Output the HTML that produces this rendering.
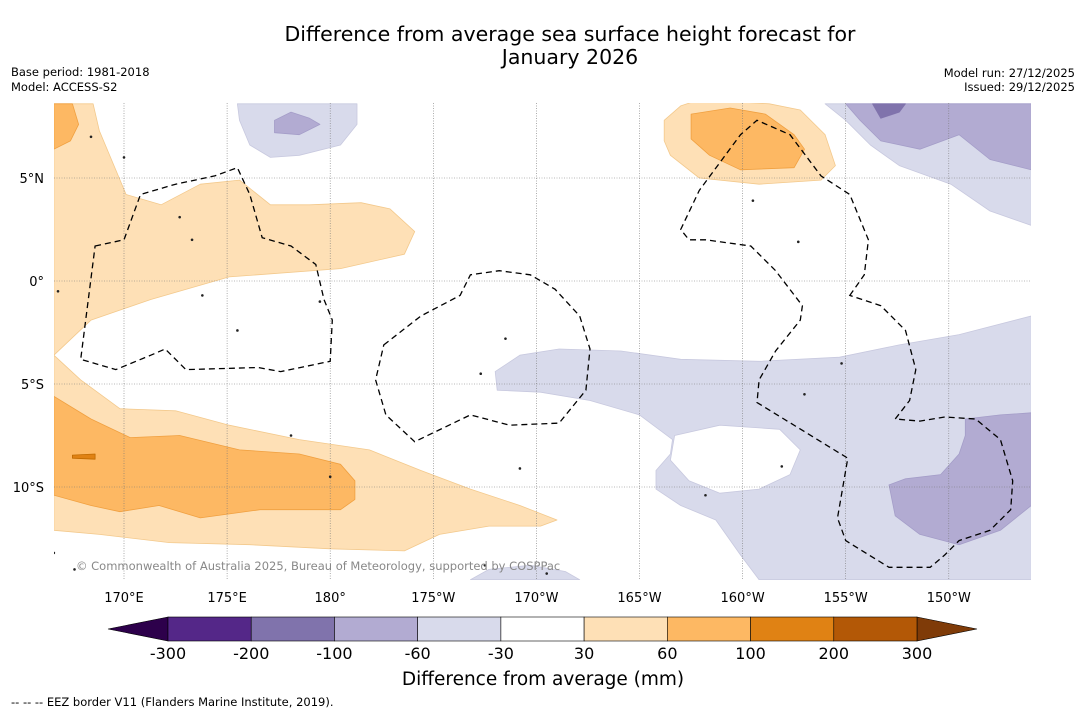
<!DOCTYPE html>
<html><head><meta charset="utf-8"><style>
html,body{margin:0;padding:0;background:#fff;}
body{width:1085px;height:713px;overflow:hidden;font-family:"DejaVu Sans",sans-serif;}
</style></head><body>
<svg id="chart" width="1085" height="713" viewBox="0 0 1085 713" xmlns="http://www.w3.org/2000/svg" font-family="DejaVu Sans, sans-serif">
<text x="570" y="41" text-anchor="middle" font-size="20.5" fill="#000">Difference from average sea surface height forecast for</text>
<text x="570" y="64" text-anchor="middle" font-size="20.5" fill="#000">January 2026</text>
<text x="11" y="76" font-size="11.5">Base period: 1981-2018</text>
<text x="11" y="91" font-size="11.5">Model: ACCESS-S2</text>
<text x="1075" y="77" font-size="11.5" text-anchor="end">Model run: 27/12/2025</text>
<text x="1075" y="91" font-size="11.5" text-anchor="end">Issued: 29/12/2025</text>
<defs><clipPath id="mapclip"><rect x="54" y="103" width="977" height="477"/></clipPath></defs>
<g id="map" clip-path="url(#mapclip)"></g>
<g id="axes"></g>
<text x="76" y="570" font-size="11.5" fill="#888">© Commonwealth of Australia 2025, Bureau of Meteorology, supported by COSPPac</text>
<g id="cbar"></g>
<text x="543" y="685" text-anchor="middle" font-size="18.5">Difference from average (mm)</text>
<text x="11" y="706" font-size="11.5">-- -- -- EEZ border V11 (Flanders Marine Institute, 2019).</text>
</svg>
<script>
const lonTicks=[170,175,180,185,190,195,200,205,210];
const lonLabels=["170°E","175°E","180°","175°W","170°W","165°W","160°W","155°W","150°W"];
const latTicks=[5,0,-5,-10];
const latLabels=["5°N","0°","5°S","10°S"];
const cbBounds=["-300","-200","-100","-60","-30","30","60","100","200","300"];
const cbColors=["#542788","#8073ac","#b2abd2","#d8daeb","#ffffff","#fee0b6","#fdb863","#e08214","#b35806"];
const cbExt=["#2d004b","#7f3b08"];
const lightOrangeNW=[[166.6,8.6],[168.5,8.6],[168.8,7.3],[170.1,4.2],[171.8,3.7],[173.7,4.7],[175.6,4.9],[177.1,3.7],[179.0,3.7],[181.5,3.8],[182.9,3.5],[184.1,2.4],[183.6,1.3],[180.5,0.6],[175.1,0.2],[171.3,-0.9],[168.4,-1.9],[166.6,-3.6]];
const orangeNW=[[166.6,8.6],[167.5,8.6],[167.8,7.6],[167.4,6.8],[166.6,6.4]];
const lightOrangeSW=[[166.6,-3.6],[167.9,-4.8],[169.8,-6.2],[172.5,-6.3],[175.1,-7.0],[178.5,-7.7],[181.9,-8.2],[184.4,-9.2],[186.8,-10.1],[189.2,-10.9],[191.0,-11.6],[190.2,-11.9],[187.7,-11.9],[185.3,-12.3],[183.6,-13.1],[180.0,-13.0],[176.1,-12.8],[172.2,-12.7],[168.8,-12.3],[166.6,-12.1]];
const orangeSW=[[166.6,-5.6],[168.4,-6.7],[170.3,-7.6],[172.7,-7.5],[175.6,-8.2],[178.5,-8.4],[180.5,-8.9],[181.2,-9.7],[181.2,-10.6],[180.5,-11.1],[176.6,-11.1],[173.7,-11.5],[171.7,-10.9],[169.8,-11.2],[168.4,-10.9],[166.6,-10.4]];
const darkOrangeSW=[[167.5,-8.45],[168.6,-8.4],[168.6,-8.65],[167.5,-8.6]];
const lightOrangeNE=[[196.2,6.8],[196.2,7.8],[197.0,8.5],[197.9,8.8],[201.3,8.6],[202.8,8.3],[204.0,7.1],[204.5,5.6],[203.8,4.9],[200.8,4.7],[197.9,5.0],[196.5,6.1]];
const orangeNE=[[197.5,8.1],[199.4,8.4],[201.1,8.1],[202.5,7.1],[203.0,6.4],[202.5,5.5],[199.9,5.4],[198.4,6.1],[197.5,6.9]];
const lightPurpleN=[[175.5,8.6],[181.3,8.6],[181.3,7.6],[180.5,6.6],[178.5,6.1],[177.1,6.0],[176.1,6.6],[175.6,7.8]];
const purpleN=[[177.3,7.8],[178.1,8.2],[179.0,7.9],[179.5,7.6],[178.5,7.1],[177.3,7.2]];
const lightPurpleNE=[[204.0,8.6],[214,8.6],[214,2.7],[212.0,3.4],[210.1,4.7],[207.6,5.6],[206.2,6.6],[205.0,7.8]];
const purpleNE=[[205.0,8.6],[214,8.6],[214,5.4],[212.0,5.9],[210.5,7.1],[208.6,6.4],[206.7,6.8],[205.7,7.8]];
const darkPurpleNE=[[206.3,8.6],[207.9,8.6],[207.6,8.2],[206.7,7.9]];
const lightPurpleS=[[188.0,-4.4],[189.2,-3.6],[191.1,-3.3],[194.1,-3.4],[197.0,-3.8],[200.8,-3.9],[204.7,-3.7],[207.6,-3.1],[210.5,-2.6],[214,-1.7],[214,-14.5],[200.8,-14.5],[199.9,-13.3],[198.7,-11.6],[197.0,-10.9],[195.8,-10.1],[195.8,-9.2],[196.5,-8.4],[196.6,-7.7],[195.0,-6.5],[192.6,-5.8],[190.2,-5.4],[188.1,-5.3]];
const holeS=[[196.7,-7.5],[198.9,-7.0],[201.8,-7.2],[202.8,-8.2],[202.3,-9.4],[200.8,-10.1],[198.9,-10.3],[197.4,-9.7],[196.5,-8.7]];
const lightPurpleBottom=[[186.8,-14.5],[187.7,-14.0],[189.7,-13.8],[191.4,-14.1],[192.1,-14.5]];
const purpleSE=[[210.8,-6.7],[212.5,-6.5],[214,-6.4],[214,-10.9],[212.5,-12.1],[210.5,-12.8],[208.6,-12.3],[207.4,-11.4],[207.1,-9.9],[207.9,-9.6],[209.6,-9.4],[210.5,-8.4],[210.8,-7.5]];
const eezWest=[[168.6,1.7],[170.0,2.0],[170.8,4.2],[172.5,4.7],[174.4,5.1],[175.5,5.5],[176.1,4.2],[176.7,2.1],[178.1,1.7],[179.3,0.8],[179.7,-0.9],[180.1,-1.9],[180.0,-3.9],[177.6,-4.4],[176.5,-4.2],[173.0,-4.3],[172.0,-3.3],[171.3,-3.6],[169.6,-4.3],[167.9,-3.8]];
const eezCentral=[[182.6,-3.1],[184.4,-1.7],[186.3,-0.7],[186.8,0.3],[188.2,0.5],[189.7,0.3],[190.9,-0.4],[192.1,-1.7],[192.6,-3.3],[192.4,-5.3],[191.1,-6.9],[188.7,-7.0],[186.8,-6.5],[184.1,-7.8],[182.7,-6.5],[182.2,-4.8]];
const eezEast=[[205.2,-0.7],[205.9,0.3],[206.1,2.0],[205.2,4.2],[203.8,5.1],[202.3,7.1],[200.7,7.8],[199.9,7.1],[197.9,4.4],[197.0,2.5],[197.4,2.0],[198.2,2.0],[200.4,1.7],[201.6,0.5],[202.9,-1.2],[202.8,-1.9],[201.6,-3.4],[200.8,-4.8],[200.7,-5.9],[205.1,-8.6],[204.6,-11.5],[205.0,-12.6],[207.1,-13.9],[209.1,-13.9],[209.8,-13.3],[210.5,-12.6],[212.0,-12.1],[213.0,-11.1],[213.1,-9.7],[212.5,-7.7],[211.3,-6.7],[209.8,-6.6],[208.6,-6.8],[207.4,-6.7],[208.1,-5.8],[208.4,-4.3],[207.9,-2.4],[206.7,-1.2]];
const islands=[[168.4,7.0],[170.0,6.0],[172.7,3.1],[173.3,2.0],[173.8,-0.7],[175.5,-2.4],[178.1,-7.5],[180.0,-9.5],[187.3,-4.5],[188.5,-2.8],[189.2,-9.1],[190.5,-14.2],[187.5,-13.8],[166.6,-13.2],[167.6,-14.0],[200.5,3.9],[202.7,1.9],[203.0,-5.5],[201.9,-9.0],[198.2,-10.4],[204.8,-4.0],[166.8,-0.5],[179.5,-1.0]];

const NS='http://www.w3.org/2000/svg';
const xS=lon=>124+(lon-170)*20.62;
const yS=lat=>281-lat*20.6;
function mk(tag,attrs,parent){const e=document.createElementNS(NS,tag);for(const k in attrs)e.setAttribute(k,attrs[k]);parent.appendChild(e);return e;}
const map=document.getElementById('map');
mk('rect',{x:54,y:103,width:977,height:477,fill:'#fff'},map);
function pts(arr){return arr.map(p=>xS(p[0]).toFixed(1)+','+yS(p[1]).toFixed(1)).join(' ');}
function poly(arr,fill,stroke,name){const e=mk('polygon',{points:pts(arr),fill:fill,stroke:stroke,'stroke-width':0.8,'stroke-linejoin':'round'},map);

return e;}
poly(lightPurpleS,'#d8daeb','#c8c9df','contour-light-purple-south');
poly(holeS,'#ffffff','#c8c9df','contour-neutral-hole');
poly(lightPurpleBottom,'#d8daeb','#c8c9df','contour-light-purple-bottom');
poly(purpleSE,'#b2abd2','#a49dc8','contour-purple-southeast');
poly(lightPurpleN,'#d8daeb','#c8c9df','contour-light-purple-north');
poly(purpleN,'#b2abd2','#a49dc8','contour-purple-north');
poly(lightPurpleNE,'#d8daeb','#c8c9df','contour-light-purple-northeast');
poly(purpleNE,'#b2abd2','#a49dc8','contour-purple-northeast');
poly(darkPurpleNE,'#8073ac','#8073ac','contour-dark-purple-northeast');
poly(lightOrangeNW,'#fee0b6','#f3c98c','contour-light-orange-northwest');
poly(orangeNW,'#fdb863','#f0a040','contour-orange-northwest');
poly(lightOrangeSW,'#fee0b6','#f3c98c','contour-light-orange-southwest');
poly(orangeSW,'#fdb863','#f0a040','contour-orange-southwest');
poly(darkOrangeSW,'#e08214','#c06a00','contour-dark-orange-southwest');
poly(lightOrangeNE,'#fee0b6','#f3c98c','contour-light-orange-northeast');
poly(orangeNE,'#fdb863','#f0a040','contour-orange-northeast');
lonTicks.forEach(l=>{const e=mk('line',{x1:xS(l),x2:xS(l),y1:103,y2:580,stroke:'#777','stroke-width':0.6,'stroke-dasharray':'1,1.5'},map);

});
latTicks.forEach(l=>{const e=mk('line',{x1:54,x2:1031,y1:yS(l),y2:yS(l),stroke:'#777','stroke-width':0.6,'stroke-dasharray':'1,1.5'},map);

});
islands.forEach(p=>{const e=mk('circle',{cx:xS(p[0]),cy:yS(p[1]),r:1.3,fill:'#222'},map);

});
[[eezWest,'eez-border-west'],[eezCentral,'eez-border-central'],[eezEast,'eez-border-east']].forEach(([a,n])=>{
const e=mk('polygon',{points:pts(a),fill:'none',stroke:'#000','stroke-width':1.3,'stroke-dasharray':'6,4'},map);

});
const axes=document.getElementById('axes');
lonTicks.forEach((l,i)=>{const t=mk('text',{x:xS(l),y:602,'text-anchor':'middle','font-size':13,fill:'#000'},axes);t.textContent=lonLabels[i];

});
latTicks.forEach((l,i)=>{const t=mk('text',{x:44,y:yS(l)+5,'text-anchor':'end','font-size':13,fill:'#000'},axes);t.textContent=latLabels[i];

});
const cb=document.getElementById('cbar');
const cbX0=168,cbX1=917,cbY=617,cbH=24;const segW=(cbX1-cbX0)/cbColors.length;
const l1=mk('polygon',{points:`${cbX0},${cbY} 108,${cbY+cbH/2} ${cbX0},${cbY+cbH}`,fill:cbExt[0],stroke:'#000','stroke-width':0.6},cb);


const r1=mk('polygon',{points:`${cbX1},${cbY} 977,${cbY+cbH/2} ${cbX1},${cbY+cbH}`,fill:cbExt[1],stroke:'#000','stroke-width':0.6},cb);


cbColors.forEach((c,i)=>{const r=mk('rect',{x:cbX0+i*segW,y:cbY,width:segW,height:cbH,fill:c,stroke:'#000','stroke-width':0.6},cb);

});
cbBounds.forEach((b,i)=>{const t=mk('text',{x:cbX0+i*segW,y:659,'text-anchor':'middle','font-size':16,fill:'#000'},cb);t.textContent=b;

});
</script>
</body></html>
